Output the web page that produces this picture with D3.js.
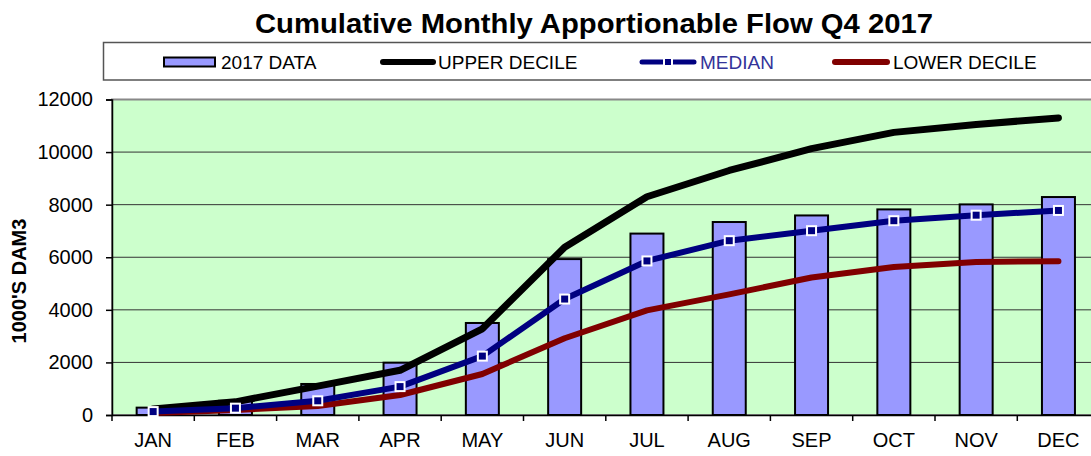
<!DOCTYPE html>
<html>
<head>
<meta charset="utf-8">
<script src="https://cdn.jsdelivr.net/npm/d3@7"></script>
<style>
  body { margin: 0; background: #fff; overflow: hidden; }
  text { font-family: Arial, "Liberation Sans", sans-serif; }
</style>
</head>
<body>
<svg width="1091" height="456"></svg>
<script>
const meses = ['JAN','FEB','MAR','APR','MAY','JUN','JUL','AUG','SEP','OCT','NOV','DEC'];
const dados2017 = [280, 540, 1180, 1990, 3500, 5930, 6900, 7340, 7590, 7820, 8010, 8290];
const decilSup = [230, 500, 1100, 1700, 3280, 6380, 8300, 9300, 10130, 10750, 11050, 11300];
const mediana = [130, 260, 540, 1080, 2240, 4410, 5860, 6630, 7010, 7390, 7600, 7780];
const decilInf = [80, 190, 340, 760, 1560, 2920, 3980, 4590, 5230, 5630, 5820, 5850];
const yTicks = [0, 2000, 4000, 6000, 8000, 10000, 12000];

const svg = d3.select('svg');

const marg = { esquerda: 112, cima: 99.5, baixo: 415 };
const direita = 112 + 12 * 82.3;

const xEscala = d3.scaleBand()
    .domain(meses)
    .range([marg.esquerda, direita])
    .padding(0);

const yEscala = d3.scaleLinear()
    .domain([0, 12000])
    .range([marg.baixo, marg.cima]);

const cx = m => xEscala(m) + xEscala.bandwidth() / 2;

// titulo
const titulo = svg.append('text')
    .attr('x', 594)
    .attr('y', 33)
    .attr('text-anchor', 'middle')
    .attr('font-size', 28)
    .attr('font-weight', 'bold')
    .text('Cumulative Monthly Apportionable Flow Q4 2017');
titulo.attr('textLength', 678).attr('lengthAdjust', 'spacingAndGlyphs');

// legenda
svg.append('rect')
    .attr('x', 103.5).attr('y', 42.5)
    .attr('width', 1100).attr('height', 37.5)
    .attr('fill', '#fff')
    .attr('stroke', '#555').attr('stroke-width', 1.5);

const legY = 62;
svg.append('rect')
    .attr('x', 164).attr('y', 57.5).attr('width', 51).attr('height', 9)
    .attr('fill', '#9999ff').attr('stroke', '#000').attr('stroke-width', 2);
svg.append('text').attr('x', 221).attr('y', 69).attr('font-size', 19).text('2017 DATA');

svg.append('line')
    .attr('x1', 383).attr('x2', 433).attr('y1', legY).attr('y2', legY)
    .attr('stroke', '#000').attr('stroke-width', 6).attr('stroke-linecap', 'round');
svg.append('text').attr('x', 438).attr('y', 69).attr('font-size', 19).text('UPPER DECILE');

svg.append('line')
    .attr('x1', 642).attr('x2', 694).attr('y1', legY).attr('y2', legY)
    .attr('stroke', '#000080').attr('stroke-width', 5).attr('stroke-linecap', 'round');
svg.append('rect')
    .attr('x', 664).attr('y', legY - 4).attr('width', 8).attr('height', 8)
    .attr('fill', '#000080').attr('stroke', '#fff').attr('stroke-width', 2);
svg.append('text').attr('x', 700).attr('y', 69).attr('font-size', 19)
    .attr('fill', '#333399').text('MEDIAN');

svg.append('line')
    .attr('x1', 835).attr('x2', 887).attr('y1', legY).attr('y2', legY)
    .attr('stroke', '#800000').attr('stroke-width', 6).attr('stroke-linecap', 'round');
svg.append('text').attr('x', 893).attr('y', 69).attr('font-size', 19).text('LOWER DECILE');

// area do grafico
svg.append('rect')
    .attr('x', marg.esquerda).attr('y', marg.cima)
    .attr('width', direita - marg.esquerda).attr('height', marg.baixo - marg.cima)
    .attr('fill', '#ccffcc')
    .attr('stroke', '#888').attr('stroke-width', 2);

// grade
svg.append('g').selectAll('line').data(yTicks.slice(1, -1))
    .enter().append('line')
    .attr('x1', marg.esquerda).attr('x2', direita)
    .attr('y1', d => yEscala(d)).attr('y2', d => yEscala(d))
    .attr('stroke', '#333').attr('stroke-width', 1);

// barras
svg.append('g').selectAll('rect').data(meses)
    .enter().append('rect')
    .attr('x', (m) => cx(m) - 16.5)
    .attr('width', 33)
    .attr('y', (m, i) => yEscala(dados2017[i]))
    .attr('height', (m, i) => yEscala(0) - yEscala(dados2017[i]))
    .attr('fill', '#9999ff')
    .attr('stroke', '#000').attr('stroke-width', 2);

// eixo y
const yAxis = d3.axisLeft(yEscala)
    .tickValues(yTicks)
    .tickSize(6)
    .tickPadding(13)
    .tickFormat(d3.format('d'));
const yAxisG = svg.append('g')
    .attr('transform', `translate(${marg.esquerda},0)`)
    .call(yAxis);
yAxisG.select('.domain').attr('stroke', '#000').attr('stroke-width', 1.5);
yAxisG.selectAll('.tick line').attr('stroke', '#000').attr('stroke-width', 1.5);
yAxisG.selectAll('.tick text')
    .attr('font-size', 20)
    .attr('font-family', 'Arial, "Liberation Sans", sans-serif')
    .attr('fill', '#000');

// eixo x
const xAxis = d3.axisBottom(xEscala).tickSize(0).tickPadding(18);
const xAxisG = svg.append('g')
    .attr('transform', `translate(0,${marg.baixo})`)
    .call(xAxis);
xAxisG.select('.domain').attr('stroke', '#000').attr('stroke-width', 1.5);
xAxisG.selectAll('.tick text')
    .attr('font-size', 20)
    .attr('font-family', 'Arial, "Liberation Sans", sans-serif')
    .attr('fill', '#000');
svg.append('g').selectAll('line').data(meses)
    .enter().append('line')
    .attr('x1', m => xEscala(m)).attr('x2', m => xEscala(m))
    .attr('y1', marg.baixo).attr('y2', marg.baixo + 6)
    .attr('stroke', '#000').attr('stroke-width', 1.5);

// titulo do eixo
svg.append('text')
    .attr('transform', 'translate(26,281) rotate(-90)')
    .attr('text-anchor', 'middle')
    .attr('font-size', 20)
    .attr('font-weight', 'bold')
    .text("1000'S DAM3");

// linhas
const linha = vals => d3.line()
    .x((m) => cx(m))
    .y((m, i) => yEscala(vals[i]))(meses);

svg.append('path').attr('d', linha(decilSup))
    .attr('fill', 'none').attr('stroke', '#000').attr('stroke-width', 7)
    .attr('stroke-linecap', 'round').attr('stroke-linejoin', 'round');
svg.append('path').attr('d', linha(decilInf))
    .attr('fill', 'none').attr('stroke', '#800000').attr('stroke-width', 6)
    .attr('stroke-linecap', 'round').attr('stroke-linejoin', 'round');
svg.append('path').attr('d', linha(mediana))
    .attr('fill', 'none').attr('stroke', '#000080').attr('stroke-width', 6)
    .attr('stroke-linecap', 'round').attr('stroke-linejoin', 'round');

svg.append('g').selectAll('rect').data(meses)
    .enter().append('rect')
    .attr('x', m => cx(m) - 4.5)
    .attr('y', (m, i) => yEscala(mediana[i]) - 4.5)
    .attr('width', 9).attr('height', 9)
    .attr('fill', '#000080')
    .attr('stroke', '#fff').attr('stroke-width', 2);
</script>
</body>
</html>
